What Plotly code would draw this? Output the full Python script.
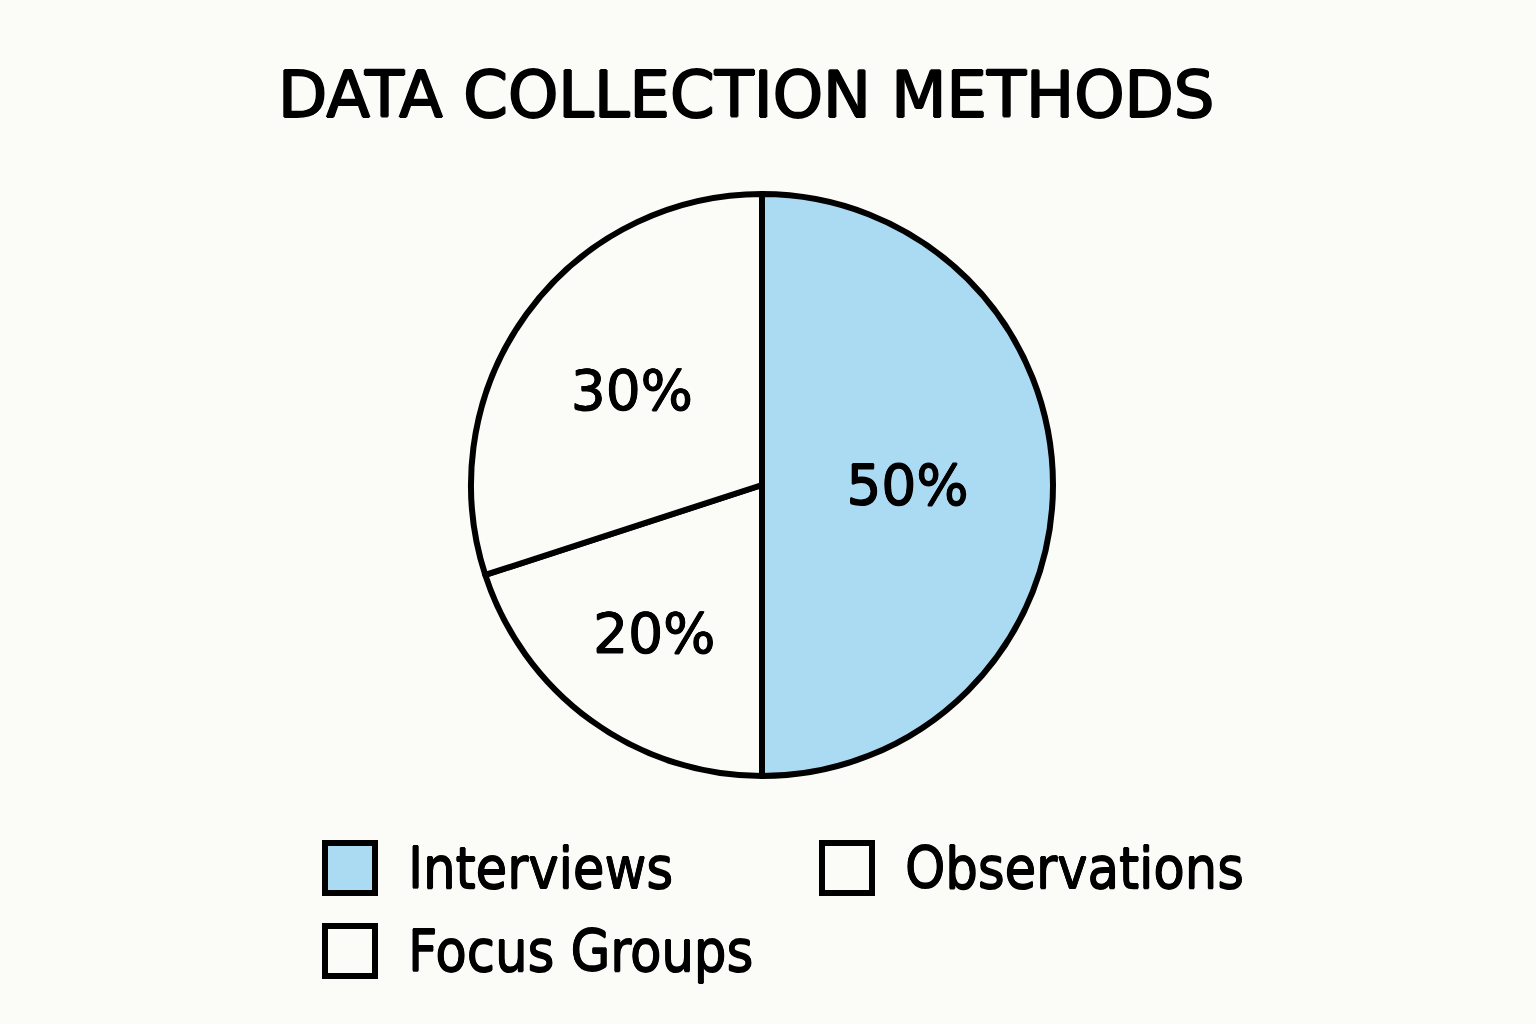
import plotly.graph_objects as go

title_text = "DATA COLLECTION METHODS"
categories = ["Interviews", "Focus Groups", "Observations"]
values = [50, 20, 30]
legend_order = ["Interviews", "Observations", "Focus Groups"]

colors = {"Interviews": "#ABDAF3", "Focus Groups": "#FBFBF8", "Observations": "#FBFBF8"}
BG = "#FBFBF8"
LFONT = "DejaVu Sans Condensed, DejaVu Sans"
FONT = "DejaVu Sans"
HEAVY = "1px 0 0 black, -1px 0 0 black, 0 1px 0 black, 0 -1px 0 black"
MEDIUM = "0.6px 0 0 black, -0.6px 0 0 black, 0 0.6px 0 black, 0 -0.6px 0 black"

W, H = 1536, 1024
fig = go.Figure()

cx, cy, r = 762, 485, 291
fig.add_trace(go.Pie(
    labels=categories,
    values=values,
    sort=False,
    direction="clockwise",
    rotation=0,
    marker=dict(colors=[colors[c] for c in categories], line=dict(color="black", width=6)),
    texttemplate="%{percent:.0%}",
    textposition="inside",
    insidetextorientation="horizontal",
    textfont=dict(family=FONT, size=55, color="black", shadow=MEDIUM),
    domain=dict(x=[(cx - r) / W, (cx + r) / W], y=[1 - (cy + r) / H, 1 - (cy - r) / H]),
    showlegend=False,
    hoverinfo="label+percent",
))

# legend drawn as paper shapes + annotations
lx = [325, 822]
ly = [868, 951]
sq = 50
for i, name in enumerate(legend_order):
    col, row = i % 2, i // 2
    x0 = lx[col]
    yc = ly[row]
    fig.add_shape(type="rect", xref="paper", yref="paper",
                  x0=x0 / W, x1=(x0 + sq) / W,
                  y0=1 - (yc + sq / 2) / H, y1=1 - (yc - sq / 2) / H,
                  fillcolor=colors[name], line=dict(color="black", width=6))
    fig.add_annotation(xref="paper", yref="paper", x=(x0 + sq + 31) / W, y=1 - yc / H,
                       text=name, showarrow=False, xanchor="left", yanchor="middle",
                       font=dict(family=LFONT, size=57, color="black", shadow=MEDIUM))

fig.add_annotation(xref="paper", yref="paper", x=746 / W, y=1 - 95 / H,
                   text=title_text, showarrow=False, xanchor="center", yanchor="middle",
                   font=dict(family=FONT, size=64, color="black", shadow=HEAVY))

fig.update_layout(
    width=W, height=H,
    margin=dict(l=0, r=0, t=0, b=0),
    paper_bgcolor=BG, plot_bgcolor=BG,
    showlegend=False,
)
fig.write_html("out.html", config={"displayModeBar": False},
               post_script="document.body.style.margin='0';")
